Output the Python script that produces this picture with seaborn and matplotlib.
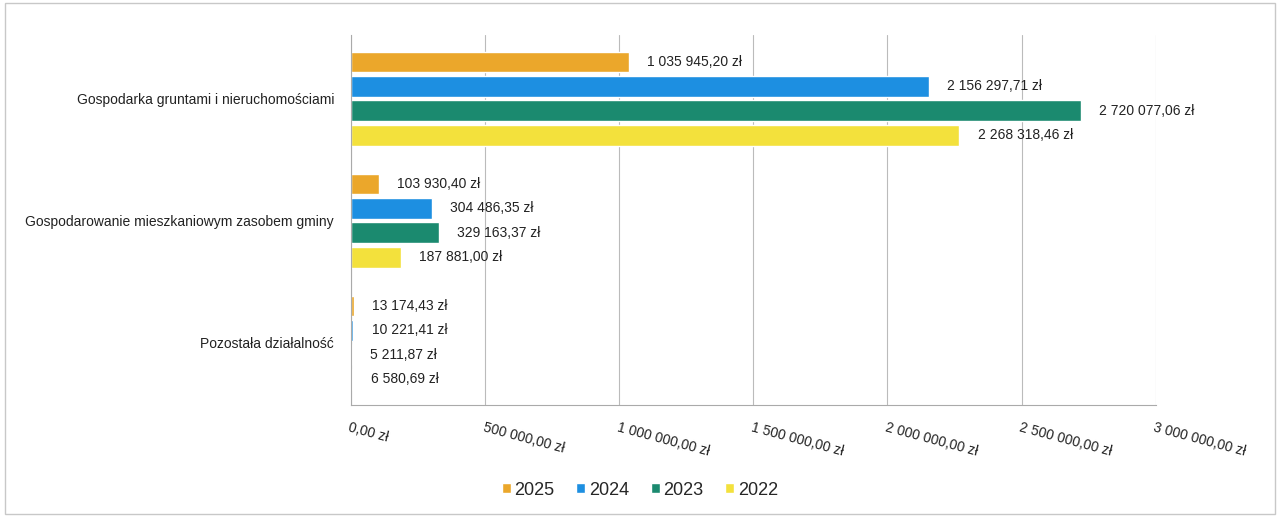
import pandas as pd
import seaborn as sns
import matplotlib.pyplot as plt
from matplotlib.patches import Rectangle

sns.set_theme(style="white")
plt.rcParams['font.family'] = ['Liberation Sans', 'DejaVu Sans']

categories = ['Gospodarka gruntami i nieruchomościami',
              'Gospodarowanie mieszkaniowym zasobem gminy',
              'Pozostała działalność']
years = ['2025', '2024', '2023', '2022']
values = {
    '2025': [1035945.20, 103930.40, 13174.43],
    '2024': [2156297.71, 304486.35, 10221.41],
    '2023': [2720077.06, 329163.37, 5211.87],
    '2022': [2268318.46, 187881.00, 6580.69],
}
colors = ['#EBA72B', '#1D8FE1', '#1B8A6F', '#F3E13C']
xticks = [0, 500000, 1000000, 1500000, 2000000, 2500000, 3000000]

rows = []
for y in years:
    for c, v in zip(categories, values[y]):
        rows.append({'kategoria': c, 'rok': y, 'kwota': v})
df = pd.DataFrame(rows)


def pln(v):
    whole, frac = f"{v:,.2f}".split('.')
    return whole.replace(',', ' ') + ',' + frac + ' zł'


fig = plt.figure(figsize=(12.8, 5.17), dpi=100)
ax = fig.add_axes([0.274, 0.217, 0.629, 0.715])

sns.barplot(data=df, y='kategoria', x='kwota', hue='rok', hue_order=years,
            palette=colors, saturation=1, orient='h', width=0.8, gap=0.15,
            ax=ax, legend=True)

for cont in ax.containers:
    ax.bar_label(cont, labels=[pln(w) for w in cont.datavalues],
                 padding=13, fontsize=10, color='#222222')

ax.set_xlim(0, 3000000)
ax.set_ylim(2.51, -0.52)
ax.set_xticks(xticks)
ax.set_xticklabels([pln(t) for t in xticks], rotation=-15, ha='left',
                   rotation_mode='anchor', fontsize=10, color='#222222')
ax.tick_params(axis='x', length=3, color='#999999', pad=8)
ax.tick_params(axis='y', length=0, labelsize=10, labelcolor='#222222', pad=12)
ax.xaxis.grid(True, color='#bbbbbb', linewidth=0.8)
ax.set_axisbelow(True)
ax.set_xlabel('')
ax.set_ylabel('')
for s in ['top', 'right']:
    ax.spines[s].set_visible(False)
for s in ['left', 'bottom']:
    ax.spines[s].set_color('#aaaaaa')
    ax.spines[s].set_linewidth(0.8)

ax.legend(loc='center', bbox_to_anchor=(0.5, 0.052), bbox_transform=fig.transFigure,
          ncol=4, frameon=False, fontsize=13, handlelength=0.5, handleheight=0.5,
          handletextpad=0.2, columnspacing=1.2)

fig.patches.append(Rectangle((0.004, 0.006), 0.992, 0.988, transform=fig.transFigure,
                             fill=False, edgecolor='#c8c8c8', linewidth=1))

fig.savefig('out.png', dpi=100)
